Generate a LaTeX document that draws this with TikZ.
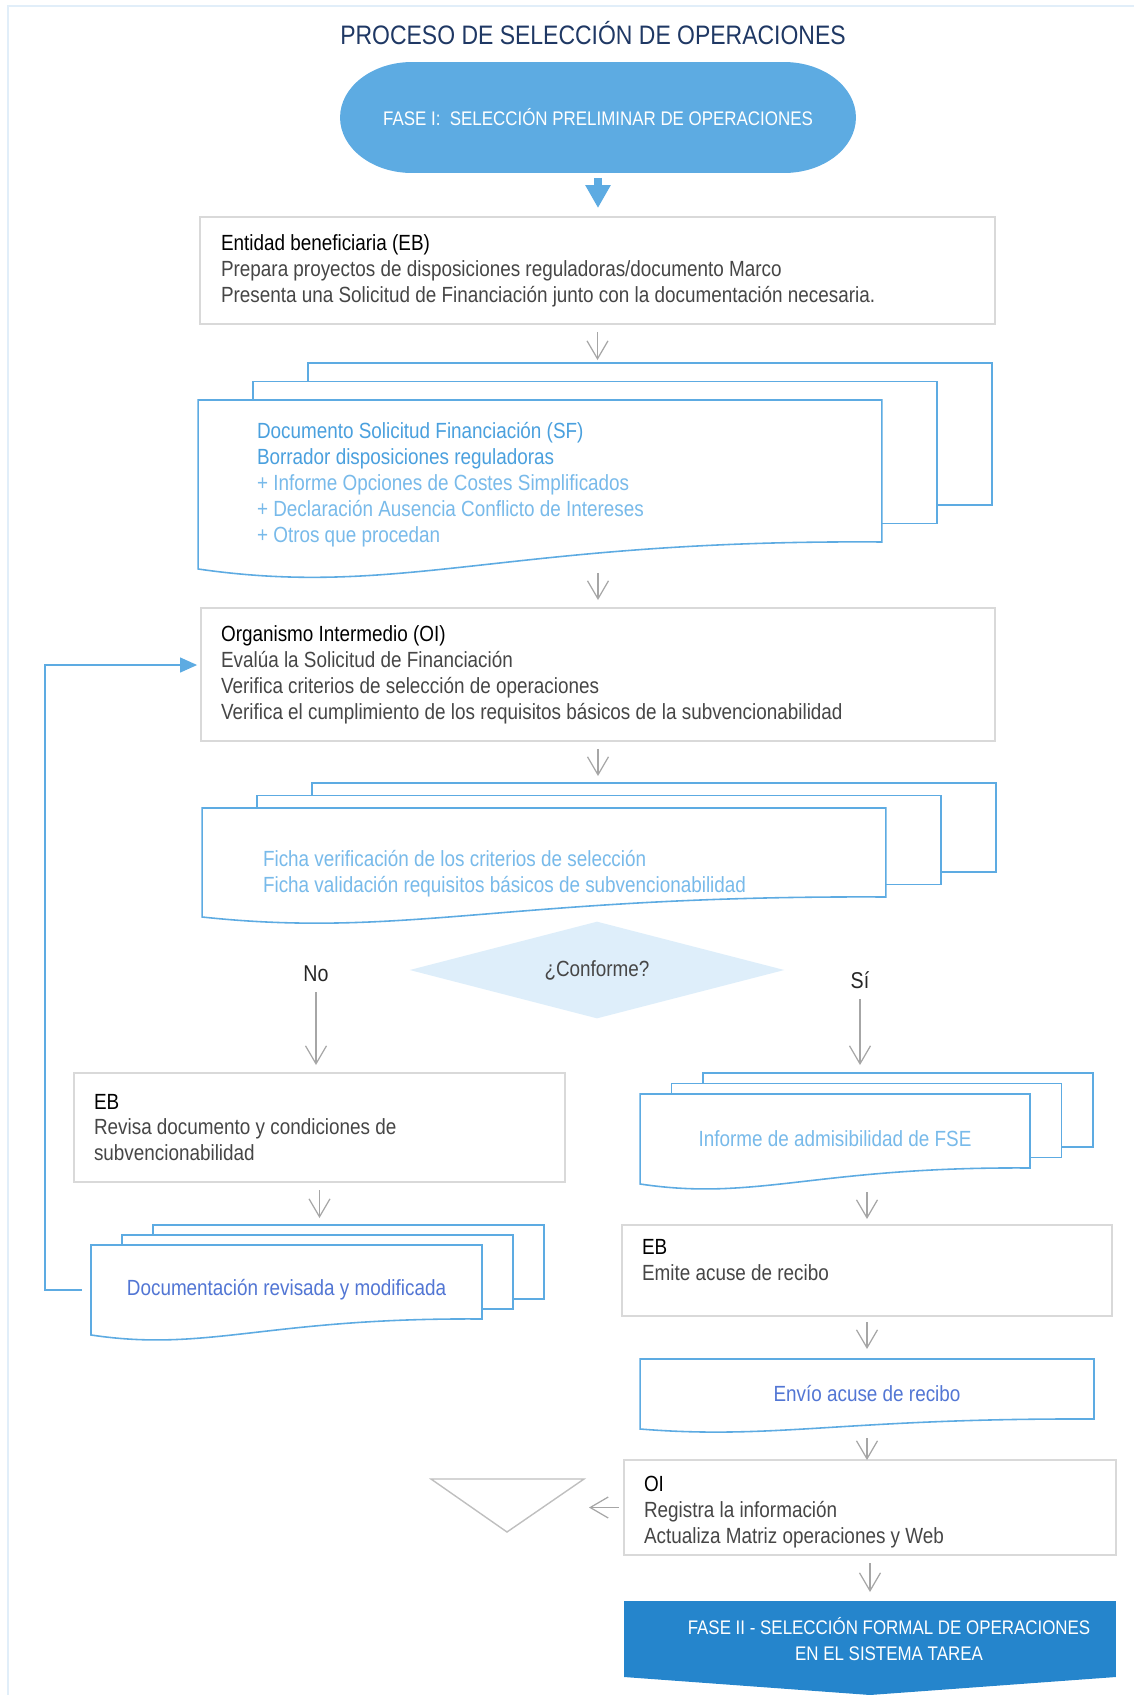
\documentclass[tikz,border=0pt]{standalone}
\usepackage{fontspec}
\setmainfont{Liberation Sans}[FakeStretch=0.86]
\usepackage{xcolor}
\usepackage{tikz}
\usetikzlibrary{shapes.geometric,arrows.meta,positioning,calc,backgrounds}

\definecolor{titlenavy}{RGB}{31,56,100}
\definecolor{faseone}{RGB}{93,171,226}
\definecolor{fasetwo}{RGB}{37,133,204}
\definecolor{docblue}{RGB}{93,171,226}
\definecolor{docstrong}{RGB}{74,160,222}
\definecolor{doclight}{RGB}{120,186,234}
\definecolor{docindigo}{RGB}{82,118,212}
\definecolor{boxgray}{RGB}{217,217,217}
\definecolor{arrgray}{RGB}{166,166,166}
\definecolor{bodytext}{RGB}{70,70,70}
\definecolor{decfill}{RGB}{222,238,250}
\definecolor{framec}{RGB}{225,238,249}
\definecolor{trigray}{RGB}{191,191,191}

\newcommand{\txtbody}{\fontsize{12.5}{14.74}\selectfont}
\newcommand{\txttitle}{\fontsize{15.2}{19}\selectfont}
\newcommand{\txtfase}{\fontsize{11.2}{14.74}\selectfont}

% document outline with a wavy bottom edge, around a node
\newcommand{\docshape}[2]{%
  \draw[docline,fill=white] (#1.south west) -- (#1.north west) -- (#1.north east)
    -- ($(#1.south east)+(0,-#2)$)
    .. controls ($(#1.south east)!0.55!(#1.south west)+(0,-1.1*#2)$)
           and ($(#1.south east)!0.7!(#1.south west)+(0,1.1*#2)$) .. (#1.south west) -- cycle;}
% three stacked documents
\newcommand{\docstack}[4]{%
  \foreach \k in {2,1}{
    \draw[docline,fill=white] ($(#1.north west)+(\k*#2,-\k*#3)$)
      rectangle ($(#1.south east)+(\k*#2,-\k*#3-#4)$);}
  \coordinate (#1-top) at ($(#1.north)+(0,-2*#3)$);
  \docshape{#1}{#4}}

\begin{document}
\begin{tikzpicture}[
  x=0.02cm, y=-0.02cm,
  box/.style={rectangle,draw=boxgray,line width=0.8pt,fill=white,inner sep=0pt,
              outer sep=0pt,align=flush left,font=\txtbody,text=bodytext},
  docnode/.style={rectangle,inner sep=0pt,outer sep=0pt,font=\txtbody},
  docline/.style={draw=docblue,line width=0.9pt},
  arr/.style={-{Straight Barb[length=0.36cm,width=0.42cm]},arrgray,line width=0.7pt},
  bigarr/.style={-{Triangle[length=0.46cm,width=0.48cm]},faseone,line width=0.16cm},
  backarr/.style={-{Triangle[length=0.34cm,width=0.3cm]},docblue,line width=0.7pt},
  decision/.style={diamond,fill=decfill,aspect=3.9,minimum width=7.5cm,
                   minimum height=1.94cm,inner sep=0pt,font=\txtbody,text=bodytext},
  answer/.style={font=\fontsize{13}{15}\selectfont,text=black!85,inner sep=0pt}
]
  \useasboundingbox (0,0) rectangle (1134,1695);
  \draw[framec,line width=1.2pt] (1134,6) -- (8,6) -- (8,1695);

  \node[font=\txttitle,text=titlenavy] (title) at (593,33) {PROCESO DE SELECCIÓN DE OPERACIONES};
  \node[font=\txtfase,text=white,minimum width=10.32cm,minimum height=2.22cm,
        inner sep=0pt,outer sep=0pt] (fase1) at (598,117.5)
        {FASE I:\ \ SELECCIÓN PRELIMINAR DE OPERACIONES};

  \node[box,minimum width=15.9cm,minimum height=2.14cm,text width=15.06cm] (eb) at (597.5,270.5)
    {\textcolor{black}{Entidad beneficiaria (EB)}\\
     Prepara proyectos de disposiciones reguladoras/documento Marco\\
     Presenta una Solicitud de Financiación junto con la documentación necesaria.};
  \node[docnode,minimum width=13.68cm,minimum height=3.38cm,text width=11.32cm,
        align=flush left,text=doclight] (sf) at (540,484.5)
    {\textcolor{docstrong}{Documento Solicitud Financiación (SF)}\\
     \textcolor{docstrong}{Borrador disposiciones reguladoras}\\
     + Informe Opciones de Costes Simplificados\\
     + Declaración Ausencia Conflicto de Intereses\\
     + Otros que procedan};
  \node[box,minimum width=15.88cm,minimum height=2.66cm,text width=15.08cm] (oi) at (598,674.5)
    {\textcolor{black}{Organismo Intermedio (OI)}\\
     Evalúa la Solicitud de Financiación\\
     Verifica criterios de selección de operaciones\\
     Verifica el cumplimiento de los requisitos básicos de la subvencionabilidad};
  \node[docnode,minimum width=13.68cm,minimum height=2.18cm,text width=11.24cm,
        align=flush left,text=doclight] (ficha) at (544,862.5)
    {\rule{0pt}{0.76cm}Ficha verificación de los criterios de selección\\
     Ficha validación requisitos básicos de subvencionabilidad};

  \node[decision] (conf) at (597,970) {¿Conforme?};
  \node[answer] (no) at (316,974) {No};
  \node[answer] (si) at (860,980) {Sí};

  \node[box,minimum width=9.82cm,minimum height=2.18cm,text width=9.02cm] (ebl) at (319.5,1127.5)
    {\textcolor{black}{EB}\\
     Revisa documento y condiciones de\\
     subvencionabilidad};
  \node[docnode,minimum width=7.82cm,minimum height=1.8cm,text=docindigo] (docrev) at (286.5,1290)
    {Documentación revisada y modificada};

  \node[docnode,minimum width=7.8cm,minimum height=1.8cm,text=doclight] (informe) at (835,1139)
    {Informe de admisibilidad de FSE};
  \node[box,minimum width=9.8cm,minimum height=1.82cm,text width=9.0cm] (ebr) at (867,1270.5)
    {\textcolor{black}{EB}\\
     Emite acuse de recibo\rule[-0.41cm]{0pt}{0.41cm}};
  \node[docnode,minimum width=9.08cm,minimum height=1.4cm,text=docindigo] (envio) at (867,1394)
    {Envío acuse de recibo};
  \node[box,minimum width=9.84cm,minimum height=1.9cm,text width=9.04cm] (oi2) at (870,1507.5)
    {\rule{0pt}{0.5cm}\textcolor{black}{OI}\\
     Registra la información\\
     Actualiza Matriz operaciones y Web};
  \node[font=\txtfase,text=white,align=center,minimum width=9.84cm,minimum height=1.52cm,
        inner sep=0pt,outer sep=0pt] (fase2) at (889,1639)
    {FASE II - SELECCIÓN FORMAL DE OPERACIONES\\EN EL SISTEMA TAREA};

  % archive triangle
  \draw[trigray,line width=0.8pt] (431,1479) -- (584,1479) -- (507,1532) -- cycle;
  \coordinate (merge) at (584,1479);

  \begin{pgfonlayer}{background}
    \fill[faseone] ([xshift=1.44cm]fase1.north west) -- ([xshift=-1.44cm]fase1.north east)
      arc[start angle=90,end angle=-90,x radius=1.44cm,y radius=1.11cm]
      -- ([xshift=1.44cm]fase1.south west)
      arc[start angle=270,end angle=90,x radius=1.44cm,y radius=1.11cm] -- cycle;
    \docstack{sf}{55}{18.5}{27}
    \docstack{ficha}{55}{12.5}{20}
    \docstack{docrev}{31}{10}{16}
    \docstack{informe}{31.5}{10.5}{16}
    \docshape{envio}{10}
    \fill[fasetwo] ([xshift=-0.38cm]fase2.north west) -- ([xshift=-0.38cm]fase2.north east)
      -- ([xshift=-0.38cm]fase2.south east) -- ([xshift=-0.38cm,yshift=-0.36cm]fase2.south)
      -- ([xshift=-0.38cm]fase2.south west) -- cycle;
  \end{pgfonlayer}

  \draw[bigarr,shorten <=0.1cm,shorten >=0.18cm](fase1.south)--(fase1.south |- eb.north);
  \draw[arr,shorten <=0.16cm,shorten >=0.06cm](eb.south)--(eb.south |- sf-top);
  \draw[arr,shorten <=0.08cm,shorten >=0.16cm](oi.north |- sf.south)--(oi.north);
  \draw[arr,shorten <=0.16cm,shorten >=0.14cm](oi.south)--(oi.south |- ficha-top);
  \draw[arr,shorten <=0.2cm,shorten >=0.16cm](no.south)--(no.south |- ebl.north);
  \draw[arr,shorten <=0.2cm,shorten >=0.16cm](si.south)--(si.south |- informe-top);
  \draw[arr,shorten <=0.16cm,shorten >=0.14cm](ebl.south)--(ebl.south |- docrev-top);
  \draw[backarr,shorten <=0.18cm,shorten >=0.08cm](docrev.west)--++(-46,0)|-([yshift=0.19cm]oi.west);
  \draw[arr,shorten <=0.16cm,shorten >=0.12cm](ebr.north |- informe.south)--(ebr.north);
  \draw[arr,shorten <=0.12cm,shorten >=0.2cm](ebr.south)--(ebr.south |- envio.north);
  \draw[arr,shorten <=0.18cm](envio.south)--(envio.south |- oi2.north);
  \draw[arr,shorten <=0.1cm,shorten >=0.1cm](oi2.west)--(oi2.west -| merge);
  \draw[arr,shorten <=0.16cm,shorten >=0.18cm](oi2.south)--(oi2.south |- fase2.north);
\end{tikzpicture}
\end{document}
